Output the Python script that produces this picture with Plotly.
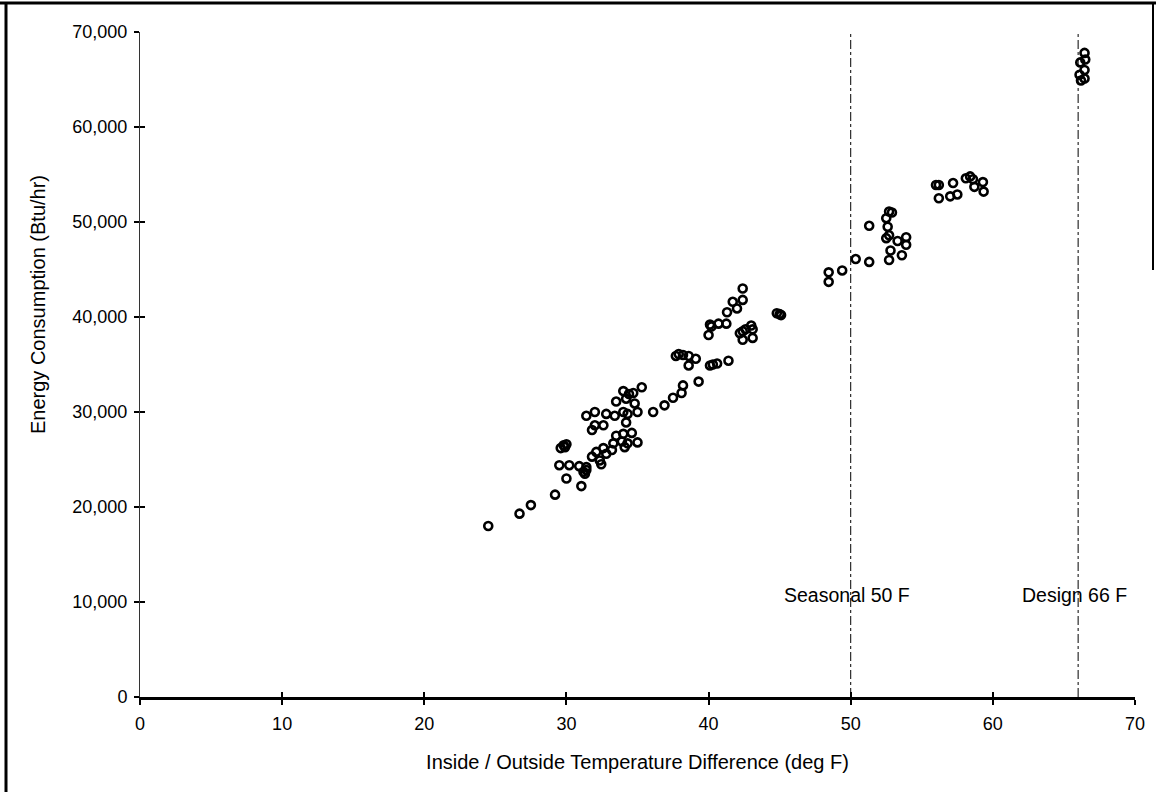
import plotly.graph_objects as go

# Inside/outside temperature difference (deg F)
temp_diff = [
    24.5, 26.7, 27.5, 29.2, 30.0, 31.05, 29.5, 30.2, 29.6, 29.8, 29.9, 30.0,
    31.3, 31.4, 31.2, 31.4, 30.9, 31.8, 32.1, 32.35, 32.45, 32.6, 32.8, 33.2,
    33.3, 33.9, 34.3, 35.0, 34.1, 33.5, 34.0, 34.6, 34.2, 32.0, 31.8, 32.6,
    31.4, 32.0, 32.8, 33.4, 34.0, 34.3, 35.0, 33.5, 34.2, 34.8, 34.0, 34.7,
    35.3, 34.4, 36.1, 36.9, 37.5, 38.1, 38.2, 39.3, 37.7, 37.9, 38.2, 38.6,
    39.1, 38.6, 40.1, 40.3, 40.6, 41.4, 40.0, 40.2, 40.1, 40.7, 41.25, 41.3,
    41.7, 42.0, 42.4, 42.4, 42.2, 42.4, 42.6, 42.4, 43.1, 43.1, 43.0, 44.8,
    45.0, 45.1, 48.45, 48.45, 49.4, 50.35, 51.3, 51.3, 52.7, 52.9, 52.5, 52.6,
    52.5, 52.7, 53.3, 53.9, 53.9, 52.8, 52.7, 53.6, 56.0, 56.2, 56.2, 57.0,
    57.5, 57.2, 58.1, 58.4, 58.6, 58.7, 59.3, 59.35, 66.45, 66.5, 66.15, 66.45,
    66.1, 66.45, 66.2,
]

# Energy consumption (Btu/hr)
energy = [
    18000, 19300, 20200, 21300, 23000, 22200, 24400, 24400, 26200, 26500, 26300, 26600,
    23500, 23900, 23700, 24200, 24300, 25300, 25800, 24900, 24500, 26200, 25600, 26000,
    26700, 26900, 26700, 26800, 26300, 27500, 27700, 27800, 28900, 28600, 28100, 28600,
    29600, 30000, 29800, 29600, 30000, 29800, 30000, 31100, 31400, 30900, 32200, 32000,
    32600, 31900, 30000, 30700, 31500, 32000, 32800, 33200, 35900, 36100, 36000, 35900,
    35600, 34900, 34900, 35000, 35100, 35400, 38100, 39000, 39200, 39300, 39300, 40500,
    41600, 40900, 41800, 43000, 38300, 38500, 38700, 37600, 38700, 37800, 39100, 40400,
    40300, 40200, 44700, 43700, 44900, 46100, 45800, 49600, 51100, 51000, 50400, 49500,
    48300, 48600, 48000, 48400, 47600, 47000, 46000, 46500, 53900, 53900, 52500, 52700,
    52900, 54100, 54600, 54800, 54500, 53700, 54200, 53200, 67800, 67100, 66800, 66000,
    65500, 65100, 64900,
]

x_ticks = [0, 10, 20, 30, 40, 50, 60, 70]
y_ticks = [0, 10000, 20000, 30000, 40000, 50000, 60000, 70000]

ref_temps = [50, 66]
ref_labels = ["Seasonal 50 F", "Design 66 F"]
ref_label_energy = 10700

x_title = "Inside / Outside Temperature Difference (deg F)"
y_title = "Energy Consumption (Btu/hr)"

FONT = "Liberation Sans, Arial, Helvetica, sans-serif"

fig = go.Figure()
fig.add_trace(go.Scatter(
    x=temp_diff, y=energy, mode="markers",
    marker=dict(symbol="circle-open", size=8, color="black", line=dict(width=2.6, color="black")),
    showlegend=False, hoverinfo="x+y",
))
# empty trace so the overlay axes (inner half of the cross ticks) are drawn
fig.add_trace(go.Scatter(x=[], y=[], xaxis="x2", yaxis="y2", showlegend=False))

shapes = []
for t in ref_temps:
    shapes.append(dict(type="line", xref="x", yref="y", x0=t, x1=t, y0=0, y1=70000,
                       line=dict(color="black", width=1, dash="dashdot")))

# scanned page frame (outer border)
W, H = 1156, 796
L, R, T, B = 140, 21, 32, 99
pw, ph = W - L - R, H - T - B
def px(x):
    return (x - L) / pw
def py(y):
    return (H - B - y) / ph
shapes += [
    dict(type="line", xref="paper", yref="paper", x0=px(0), x1=px(W), y0=py(3), y1=py(3),
         line=dict(color="black", width=3)),
    dict(type="line", xref="paper", yref="paper", x0=px(6), x1=px(6), y0=py(3), y1=py(792),
         line=dict(color="black", width=3)),
    dict(type="line", xref="paper", yref="paper", x0=px(1153), x1=px(1153), y0=py(3), y1=py(270),
         line=dict(color="black", width=2)),
]

annotations = []
for t, lab in zip(ref_temps, ref_labels):
    annotations.append(dict(x=t, y=ref_label_energy, xref="x", yref="y", text=lab,
                            showarrow=False, xanchor="center", yanchor="middle", xshift=-4,
                            font=dict(family=FONT, size=19.5, color="black")))
annotations.append(dict(x=px(38), y=py(305), xref="paper", yref="paper", text=y_title,
                        showarrow=False, textangle=-90, xanchor="center", yanchor="middle",
                        font=dict(family=FONT, size=20, color="black")))

fig.update_layout(
    width=W, height=H,
    margin=dict(l=L, r=R, t=T, b=B, autoexpand=False),
    paper_bgcolor="white", plot_bgcolor="white",
    font=dict(family=FONT, size=18, color="black"),
    xaxis=dict(
        range=[0, 70], tickvals=x_ticks, ticktext=[str(v) for v in x_ticks],
        showgrid=False, zeroline=False, showline=True, linecolor="black", linewidth=2.5,
        ticks="outside", ticklen=5, tickwidth=1.5, tickcolor="black",
        tickfont=dict(family=FONT, size=18, color="black"), ticklabelstandoff=4,
        title=dict(text=x_title, font=dict(family=FONT, size=20, color="black"), standoff=22),
        automargin=False,
    ),
    yaxis=dict(
        range=[0, 70000], tickvals=y_ticks, tickformat=",d",
        showgrid=False, zeroline=False, showline=True, linecolor="#333", linewidth=1,
        ticks="outside", ticklen=5, tickwidth=1.5, tickcolor="black",
        tickfont=dict(family=FONT, size=18, color="black"), ticklabelstandoff=3,
        automargin=False,
    ),
    xaxis2=dict(range=[0, 70], overlaying="x", anchor="y", side="bottom", tickvals=x_ticks,
                showticklabels=False, showgrid=False, zeroline=False, showline=False,
                ticks="inside", ticklen=5, tickwidth=1.5, tickcolor="black", automargin=False),
    yaxis2=dict(range=[0, 70000], overlaying="y", anchor="x", side="left", tickvals=y_ticks,
                showticklabels=False, showgrid=False, zeroline=False, showline=False,
                ticks="inside", ticklen=5, tickwidth=1.5, tickcolor="black", automargin=False),
    shapes=shapes,
    annotations=annotations,
    showlegend=False,
)

fig.write_html("out.html")
